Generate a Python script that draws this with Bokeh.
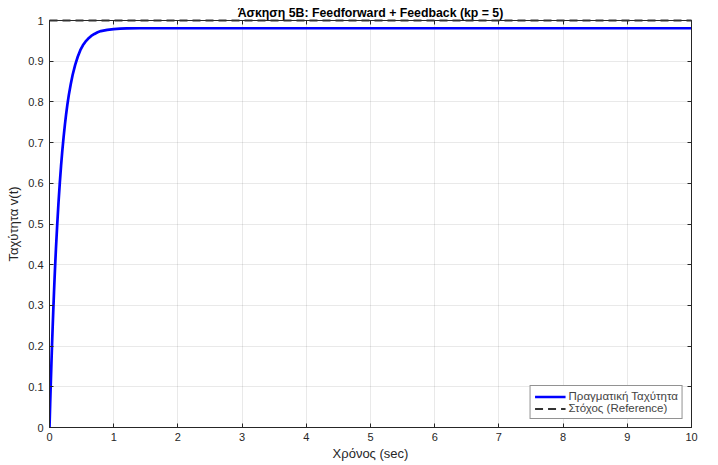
from bokeh.plotting import figure
from bokeh.models import LinearAxis, FixedTicker, Legend, LegendItem, Range1d
from bokeh.embed import file_html
from bokeh.resources import INLINE

# Data
time_s = [0, 0.01, 0.02, 0.03, 0.04, 0.05, 0.06, 0.07, 0.08, 0.09, 0.10, 0.12, 0.14, 0.16,
          0.18, 0.20, 0.22, 0.24, 0.26, 0.28, 0.30, 0.33, 0.36, 0.40, 0.44, 0.48, 0.52,
          0.56, 0.60, 0.65, 0.70, 0.75, 0.80, 0.90, 1.0, 1.1, 1.2, 1.4, 1.6, 2.0,
          3.0, 4.0, 5.0, 6.0, 7.0, 8.0, 9.0, 10.0]
velocity = [0, 0.056, 0.108, 0.158, 0.205, 0.250, 0.292, 0.332, 0.370, 0.405, 0.438, 0.498,
            0.552, 0.600, 0.643, 0.681, 0.714, 0.744, 0.771, 0.795, 0.816, 0.843, 0.866,
            0.891, 0.911, 0.927, 0.939, 0.948, 0.955, 0.962, 0.967, 0.971, 0.974, 0.977,
            0.979, 0.980, 0.9805, 0.981, 0.981, 0.981,
            0.981, 0.981, 0.981, 0.981, 0.981, 0.981, 0.981, 0.981]
ref_time = [0, 10]
ref_value = [1, 1]

x_ticks = [0, 1, 2, 3, 4, 5, 6, 7, 8, 9, 10]
y_ticks = [0, 0.1, 0.2, 0.3, 0.4, 0.5, 0.6, 0.7, 0.8, 0.9, 1]
y_tick_labels = ["0", "0.1", "0.2", "0.3", "0.4", "0.5", "0.6", "0.7", "0.8", "0.9", "1"]

title_text = "Άσκηση 5B: Feedforward + Feedback (kp = 5)"
x_label = "Χρόνος (sec)"
y_label = "Ταχύτητα v(t)"
series_names = ["Πραγματική Ταχύτητα", "Στόχος (Reference)"]

FONT = "Liberation Sans"
AX = "#262626"

p = figure(width=718, height=465, output_backend="svg", toolbar_location=None,
           x_range=Range1d(0, 10), y_range=Range1d(0, 1),
           min_border_left=49, min_border_right=27, min_border_top=20, min_border_bottom=38)

p.title.text = title_text
p.title.align = "center"
p.title.text_font = FONT
p.title.text_font_size = "12.3px"
p.title.text_font_style = "bold"
p.title.text_color = "#000000"
p.title.standoff = 2
p.title.offset = 0

p.outline_line_color = AX
p.outline_line_alpha = 0.8

for ax, ticks in ((p.xaxis[0], x_ticks), (p.yaxis[0], y_ticks)):
    ax.ticker = FixedTicker(ticks=ticks)
    ax.major_tick_in = 4
    ax.major_tick_out = 0
    ax.minor_tick_in = 0
    ax.minor_tick_out = 0
    ax.axis_line_color = AX
    ax.major_tick_line_color = AX
    ax.major_label_text_font = FONT
    ax.major_label_text_font_size = "11px"
    ax.major_label_text_color = "#262626"
    ax.axis_label_text_font = FONT
    ax.axis_label_text_font_size = "13px"
    ax.axis_label_text_font_style = "normal"
    ax.axis_label_text_color = "#262626"

p.xaxis[0].axis_label = x_label
p.yaxis[0].axis_label = y_label
p.xaxis[0].major_label_standoff = 5
p.xaxis[0].axis_label_standoff = 2
p.yaxis[0].major_label_standoff = 6
p.yaxis[0].axis_label_standoff = 4
p.yaxis[0].major_label_overrides = {t: s for t, s in zip(y_ticks, y_tick_labels)}

for loc, ticks in (("above", x_ticks), ("right", y_ticks)):
    a = LinearAxis(ticker=FixedTicker(ticks=ticks), major_tick_in=4, major_tick_out=0,
                   minor_tick_in=0, minor_tick_out=0, axis_line_color=AX,
                   major_tick_line_color=AX, major_label_text_font_size="1px",
                   major_label_standoff=0,
                   major_label_overrides={t: "" for t in ticks})
    p.add_layout(a, loc)

p.xgrid.ticker = FixedTicker(ticks=x_ticks)
p.ygrid.ticker = FixedTicker(ticks=y_ticks)
p.grid.grid_line_color = AX
p.grid.grid_line_alpha = 0.1

r1 = p.line(time_s, velocity, line_color="#0000ff", line_width=2.7)
r2 = p.line(ref_time, ref_value, line_color="#333333", line_width=1.8, line_dash="8 5",
            level="overlay")

legend = Legend(items=[LegendItem(label=series_names[0], renderers=[r1]),
                       LegendItem(label=series_names[1], renderers=[r2])],
                location="bottom_right")
legend.label_text_font = FONT
legend.label_text_font_size = "11.5px"
legend.label_height = 11
legend.glyph_height = 11
legend.glyph_width = 31
legend.label_standoff = 3
legend.spacing = 0
legend.padding = 4
legend.margin = 8
legend.border_line_color = AX
legend.border_line_width = 0.8
legend.background_fill_color = "#ffffff"
legend.background_fill_alpha = 1
p.add_layout(legend)

open("out.html", "w").write(file_html(p, INLINE))
